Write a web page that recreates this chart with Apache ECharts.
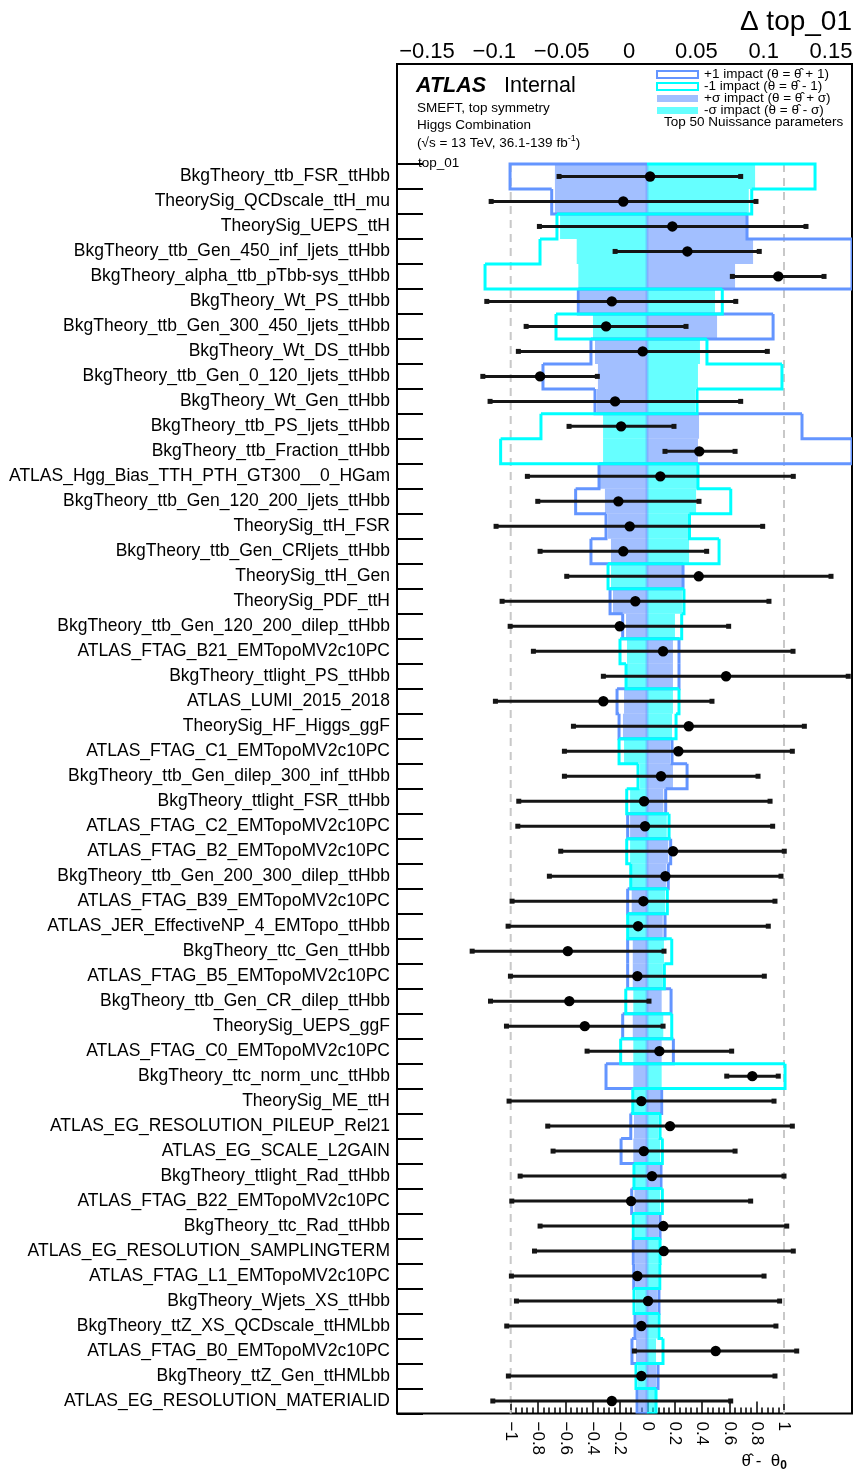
<!DOCTYPE html>
<html><head><meta charset="utf-8">
<script src="https://cdn.jsdelivr.net/npm/echarts@6/dist/echarts.min.js"></script>
<style>html,body{margin:0;padding:0;background:#fff}#c{width:856px;height:1477px}</style>
</head><body><div id="c"></div>
<script>
// ---------------- data ----------------
const names = [
 'BkgTheory_ttb_FSR_ttHbb','TheorySig_QCDscale_ttH_mu','TheorySig_UEPS_ttH','BkgTheory_ttb_Gen_450_inf_ljets_ttHbb',
 'BkgTheory_alpha_ttb_pTbb-sys_ttHbb','BkgTheory_Wt_PS_ttHbb','BkgTheory_ttb_Gen_300_450_ljets_ttHbb','BkgTheory_Wt_DS_ttHbb',
 'BkgTheory_ttb_Gen_0_120_ljets_ttHbb','BkgTheory_Wt_Gen_ttHbb','BkgTheory_ttb_PS_ljets_ttHbb','BkgTheory_ttb_Fraction_ttHbb',
 'ATLAS_Hgg_Bias_TTH_PTH_GT300__0_HGam','BkgTheory_ttb_Gen_120_200_ljets_ttHbb','TheorySig_ttH_FSR','BkgTheory_ttb_Gen_CRljets_ttHbb',
 'TheorySig_ttH_Gen','TheorySig_PDF_ttH','BkgTheory_ttb_Gen_120_200_dilep_ttHbb','ATLAS_FTAG_B21_EMTopoMV2c10PC',
 'BkgTheory_ttlight_PS_ttHbb','ATLAS_LUMI_2015_2018','TheorySig_HF_Higgs_ggF','ATLAS_FTAG_C1_EMTopoMV2c10PC',
 'BkgTheory_ttb_Gen_dilep_300_inf_ttHbb','BkgTheory_ttlight_FSR_ttHbb','ATLAS_FTAG_C2_EMTopoMV2c10PC','ATLAS_FTAG_B2_EMTopoMV2c10PC',
 'BkgTheory_ttb_Gen_200_300_dilep_ttHbb','ATLAS_FTAG_B39_EMTopoMV2c10PC','ATLAS_JER_EffectiveNP_4_EMTopo_ttHbb','BkgTheory_ttc_Gen_ttHbb',
 'ATLAS_FTAG_B5_EMTopoMV2c10PC','BkgTheory_ttb_Gen_CR_dilep_ttHbb','TheorySig_UEPS_ggF','ATLAS_FTAG_C0_EMTopoMV2c10PC',
 'BkgTheory_ttc_norm_unc_ttHbb','TheorySig_ME_ttH','ATLAS_EG_RESOLUTION_PILEUP_Rel21','ATLAS_EG_SCALE_L2GAIN',
 'BkgTheory_ttlight_Rad_ttHbb','ATLAS_FTAG_B22_EMTopoMV2c10PC','BkgTheory_ttc_Rad_ttHbb','ATLAS_EG_RESOLUTION_SAMPLINGTERM',
 'ATLAS_FTAG_L1_EMTopoMV2c10PC','BkgTheory_Wjets_XS_ttHbb','BkgTheory_ttZ_XS_QCDscale_ttHMLbb','ATLAS_FTAG_B0_EMTopoMV2c10PC',
 'BkgTheory_ttZ_Gen_ttHMLbb','ATLAS_EG_RESOLUTION_MATERIALID'
];
const pullValue = [
 0.02,-0.176,0.183,0.293,0.958,-0.26,-0.302,-0.034,-0.785,-0.236,
 -0.192,0.38,0.095,-0.212,-0.129,-0.176,0.376,-0.088,-0.202,0.115,
 0.576,-0.322,0.303,0.227,0.1,-0.024,-0.017,0.188,0.132,-0.029,
 -0.068,-0.582,-0.073,-0.571,-0.458,0.088,0.768,-0.044,0.166,-0.026,
 0.034,-0.119,0.117,0.12,-0.073,0.005,-0.044,0.5,-0.044,-0.26
];
const pullLow = [
 -0.646,-1.143,-0.79,-0.236,0.622,-1.175,-0.887,-0.944,-1.204,-1.151,
 -0.573,0.129,-0.878,-0.802,-1.107,-0.785,-0.59,-1.063,-1.004,-0.834,
 -0.322,-1.112,-0.541,-0.607,-0.607,-0.941,-0.948,-0.634,-0.717,-0.99,
 -1.019,-1.282,-1.002,-1.148,-1.031,-0.441,0.581,-1.012,-0.729,-0.69,
 -0.931,-0.992,-0.785,-0.826,-0.995,-0.958,-1.029,-0.095,-1.017,-1.131
];
const pullHigh = [
 0.683,0.795,1.161,0.819,1.293,0.647,0.283,0.878,-0.366,0.683,
 0.195,0.642,1.068,0.378,0.844,0.434,1.344,0.89,0.595,1.066,
 1.47,0.473,1.149,1.061,0.81,0.898,0.917,1.002,0.978,0.934,
 0.885,0.122,0.856,0.012,0.115,0.617,0.958,0.927,1.061,0.642,
 1.0,0.756,1.02,1.068,0.854,0.968,0.941,1.093,0.934,0.61
];
const impactPlus1 = [
 -0.1019,-0.0709,0.0744,0.19,0.19,-0.0511,0.0938,-0.0417,-0.0774,-0.0387,
 0.1153,0.20,-0.0357,-0.0531,-0.0305,-0.0417,0.0268,-0.0275,-0.0181,0.0238,
 0.0238,-0.0223,-0.0208,0.0186,0.0298,0.0139,-0.0144,0.0176,0.0158,-0.0144,
 0.0134,-0.0144,-0.0144,0.0179,-0.0181,0.0196,-0.0305,0.0109,-0.0121,-0.0193,
 0.0104,-0.0114,0.0097,-0.0102,-0.0099,0.0089,-0.0089,-0.0112,0.0082,-0.0074
];
const impactMinus1 = [
 0.125,0.0779,-0.067,-0.0796,-0.1205,0.056,-0.0677,0.0446,0.1004,0.0372,
 -0.0789,-0.1089,0.0379,0.0623,0.0316,0.0536,-0.029,0.0275,0.0258,-0.0201,
 -0.0156,0.0238,0.0216,-0.0208,-0.0067,-0.0151,0.0164,-0.0151,-0.0121,0.0151,
 -0.0144,0.0184,0.0129,-0.0158,0.0184,-0.0196,0.1027,-0.0106,0.0097,0.0114,
 -0.0097,0.0114,-0.0102,0.0097,0.0095,-0.0097,0.0089,0.0119,-0.0082,0.0067
];
const impactPlusSigma = [
 -0.0685,-0.0685,0.0737,0.0789,0.0655,-0.0499,0.0521,-0.0387,-0.0365,-0.0372,
 0.0387,0.0379,-0.035,-0.0313,-0.029,-0.0268,0.026,-0.0253,-0.0156,0.0193,
 0.0193,-0.0171,-0.0179,0.0171,0.0193,0.0121,-0.0126,0.0158,0.0141,-0.0114,
 0.0117,-0.0106,-0.0106,0.0109,-0.0106,0.0109,-0.0102,0.0097,-0.0097,-0.0102,
 0.0092,-0.0094,0.0084,-0.0089,-0.0087,0.0074,-0.0078,-0.0082,0.0067,-0.0063
];
const impactMinusSigma = [
 0.0804,0.0757,-0.0647,-0.0523,-0.0511,0.0506,-0.0402,0.0394,0.0379,0.0357,
 -0.0327,-0.0327,0.0372,0.0365,0.0313,0.0313,-0.0268,0.026,0.0208,-0.0149,
 -0.0149,0.0193,0.0186,-0.0171,-0.0052,-0.0126,0.0147,-0.0126,-0.0112,0.0134,
 -0.0134,0.0126,0.0117,-0.0102,0.0121,-0.0102,0.0109,-0.0097,0.0084,0.0097,
 -0.0089,0.0097,-0.0089,0.0089,0.0086,-0.0082,0.0078,0.0067,-0.0067,0.006
];
const headerSlots = ['hdr0','hdr1','hdr2','hdr3'];
const pullRefLines = [-1, 1];
const legendNames = ['+1 impact (θ = θ̂ + 1)','-1 impact (θ = θ̂ - 1)','+σ impact (θ = θ̂ + σ)','-σ impact (θ = θ̂ - σ)'];

// ---------------- build ----------------
const FONT = '"Liberation Sans", Arial, Helvetica, sans-serif';
const H = headerSlots.length;
const categories = headerSlots.concat(names);
const N = names.length;
const blueLine = '#6495ff', cyanLine = '#00ffff';
const blueFill = 'rgba(100,149,255,0.6)', cyanFill = 'rgba(0,255,255,0.6)';
const minusFmt = v => String(v).replace('-', '\u2212');

function fillRender(color){
  return function(params, api){
    const v = api.value(0), r = api.value(1);
    const cs = params.coordSys;
    const p0 = api.coord([0, r]), p1 = api.coord([v, r]);
    const h = api.size([0, 1])[1];
    let x0 = Math.min(p0[0], p1[0]), x1 = Math.max(p0[0], p1[0]);
    x0 = Math.max(x0, cs.x); x1 = Math.min(x1, cs.x + cs.width);
    return {type:'rect', shape:{x:x0, y:p0[1]-h/2, width:x1-x0, height:h}, style:{fill:color}};
  };
}
function outlineRender(color){
  return function(params, api){
    const v = api.value(0), r = api.value(1), vn = api.value(2), first = api.value(3);
    const cs = params.coordSys;
    const cl = x => Math.max(cs.x, Math.min(cs.x + cs.width, x));
    const h = api.size([0, 1])[1];
    const c = api.coord([v, r]);
    const yT = c[1] - h/2, yB = c[1] + h/2;
    const x = cl(c[0]), xn = cl(api.coord([vn, r])[0]), x0 = cl(api.coord([0, r])[0]);
    const pts = [];
    if (first) pts.push([x0, yT]);
    pts.push([x, yT], [x, yB], [xn, yB]);
    return {type:'polyline', shape:{points:pts}, style:{stroke:color, lineWidth:3, fill:'none', lineJoin:'miter'}};
  };
}
function outlineData(arr){
  return arr.map((v, i) => [v, i + H, i < arr.length - 1 ? arr[i+1] : 0, i === 0 ? 1 : 0]);
}
function pullRender(params, api){
  const r = api.value(1);
  const c = api.coord([api.value(0), r]);
  const lo = api.coord([api.value(2), r]);
  const hi = api.coord([api.value(3), r]);
  return {type:'group', children:[
    {type:'line', shape:{x1:lo[0], y1:c[1], x2:hi[0], y2:c[1]}, style:{stroke:'#151515', lineWidth:3}},
    {type:'rect', shape:{x:lo[0]-2.5, y:c[1]-2.5, width:5, height:5}, style:{fill:'#151515'}},
    {type:'rect', shape:{x:hi[0]-2.5, y:c[1]-2.5, width:5, height:5}, style:{fill:'#151515'}},
    {type:'circle', shape:{cx:c[0], cy:c[1], r:5.2}, style:{fill:'#000'}}
  ]};
}
function refLineRender(params, api){
  const v = api.value(0);
  const h = api.size([0, 1])[1];
  const a = api.coord([v, H]), b = api.coord([v, H + N - 1]);
  return {type:'line', shape:{x1:a[0], y1:a[1]-h/2, x2:b[0], y2:b[1]+h/2},
          style:{stroke:'#c8c8c8', lineWidth:2, lineDash:[8,6]}};
}
function zeroStripRender(params, api){
  const h = api.size([0, 1])[1];
  const a = api.coord([0, H]), b = api.coord([0, H + N - 1]);
  return {type:'rect', shape:{x:a[0]-1.5, y:a[1]-h/2, width:3, height:(b[1]-a[1])+h},
          style:{fill:'rgba(100,149,255,0.45)'}};
}

const gridTop = 64, gridBottom = 63.5;
const hiddenCatY = idx => ({type:'category', data:categories, inverse:true, gridIndex:idx, show:false});

const option = {
  animation:false,
  textStyle:{fontFamily:FONT},
  grid:[
    {left:397, right:4, top:gridTop, bottom:gridBottom, show:true, borderColor:'#000', borderWidth:2, backgroundColor:'transparent'},
    {left:510.7, right:72, top:gridTop, bottom:gridBottom},
    {left:427, right:25, top:gridTop, bottom:gridBottom}
  ],
  xAxis:[
    {type:'value', gridIndex:0, min:-0.186, max:0.1525, show:false, splitLine:{show:false}},
    {type:'value', gridIndex:1, min:-1, max:1, interval:0.2, position:'bottom',
     axisLine:{show:false, onZero:false}, splitLine:{show:false},
     axisTick:{show:true, inside:true, length:12, lineStyle:{color:'#000', width:1.5}},
     minorTick:{show:true, splitNumber:5, length:6, lineStyle:{color:'#000', width:1.5}},
     minorSplitLine:{show:false},
     axisLabel:{rotate:-90, fontSize:17, color:'#000', margin:8, fontFamily:FONT, formatter:minusFmt}},
    {type:'value', gridIndex:2, min:-0.15, max:0.15, interval:0.05, position:'top',
     axisLine:{show:false, onZero:false}, axisTick:{show:false}, splitLine:{show:false},
     axisLabel:{fontSize:22, color:'#000', margin:1, fontFamily:FONT, formatter:minusFmt}}
  ],
  yAxis:[
    {type:'category', data:categories, inverse:true, gridIndex:0, position:'left',
     axisLine:{show:false, onZero:false},
     axisTick:{show:true, inside:true, length:26, interval:(i)=> i >= H, lineStyle:{color:'#000', width:2}},
     axisLabel:{interval:0, margin:7, fontSize:17.5, color:'#000', fontFamily:FONT,
                formatter:(v)=> headerSlots.indexOf(v) >= 0 ? '' : v},
     splitLine:{show:false}},
    hiddenCatY(1), hiddenCatY(2)
  ],
  legend:{
    orient:'vertical', left:656, top:67.5, padding:0, itemWidth:41, itemHeight:7, itemGap:-2,
    selectedMode:false,
    textStyle:{fontSize:13.5, lineHeight:12.3, color:'#000', fontFamily:FONT, padding:[0,0,0,1]},
    data:[
      {name:legendNames[0], icon:'rect', itemStyle:{color:'#fff', borderColor:blueLine, borderWidth:2}},
      {name:legendNames[1], icon:'rect', itemStyle:{color:'#fff', borderColor:cyanLine, borderWidth:2}},
      {name:legendNames[2], icon:'rect', itemStyle:{color:blueFill, borderWidth:0}},
      {name:legendNames[3], icon:'rect', itemStyle:{color:cyanFill, borderWidth:0}}
    ]
  },
  graphic:[
    {type:'text', x:852, y:22, style:{text:'Δ top_01', font:'28px ' + FONT, fill:'#000', align:'right', verticalAlign:'middle'}},
    {type:'text', x:416, y:86, style:{text:'ATLAS', font:'italic bold 21.5px ' + FONT, fill:'#000', align:'left', verticalAlign:'middle'}},
    {type:'text', x:504, y:86, style:{text:'Internal', font:'21.5px ' + FONT, fill:'#000', align:'left', verticalAlign:'middle'}},
    {type:'text', x:417, y:108, style:{text:'SMEFT, top symmetry', font:'13.5px ' + FONT, fill:'#000', align:'left', verticalAlign:'middle'}},
    {type:'text', x:417, y:125.5, style:{text:'Higgs Combination', font:'13.5px ' + FONT, fill:'#000', align:'left', verticalAlign:'middle'}},
    {type:'text', x:417, y:143, style:{text:'(√s = 13 TeV, 36.1-139 fb{s|-1})', font:'13.5px ' + FONT, fill:'#000', align:'left', verticalAlign:'middle',
      rich:{s:{fontSize:9, fontFamily:FONT, fill:'#000', verticalAlign:'top', padding:[0,0,8,0]}}}},
    {type:'text', x:418, y:163, style:{text:'top_01', font:'13.5px ' + FONT, fill:'#000', align:'left', verticalAlign:'middle'}},
    {type:'text', x:664, y:122, style:{text:'Top 50 Nuissance parameters', font:'13.5px ' + FONT, fill:'#000', align:'left', verticalAlign:'middle'}},
    {type:'text', x:787, y:1461, style:{text:'{a|θ̂ -  θ}{b|0}', fill:'#000', align:'right', verticalAlign:'middle',
      rich:{a:{fontSize:17, fontFamily:FONT, fill:'#000'}, b:{fontSize:12, fontWeight:'bold', fontFamily:FONT, fill:'#000', padding:[10,0,0,0]}}}}
  ],
  series:[
    {type:'custom', name:'refLines', xAxisIndex:1, yAxisIndex:1, z:1, silent:true, clip:false,
     renderItem:refLineRender, data:pullRefLines.map(v => [v])},
    {type:'custom', name:legendNames[2], xAxisIndex:0, yAxisIndex:0, z:2, clip:true,
     itemStyle:{color:blueFill}, renderItem:fillRender(blueFill), data:impactPlusSigma.map((v,i)=>[v, i+H])},
    {type:'custom', name:legendNames[3], xAxisIndex:0, yAxisIndex:0, z:2, clip:true,
     itemStyle:{color:cyanFill}, renderItem:fillRender(cyanFill), data:impactMinusSigma.map((v,i)=>[v, i+H])},
    {type:'custom', name:'zero', xAxisIndex:0, yAxisIndex:0, z:3, silent:true,
     renderItem:zeroStripRender, data:[[0, H]]},
    {type:'custom', name:legendNames[0], xAxisIndex:0, yAxisIndex:0, z:4, clip:true,
     itemStyle:{color:blueLine}, renderItem:outlineRender(blueLine), data:outlineData(impactPlus1)},
    {type:'custom', name:legendNames[1], xAxisIndex:0, yAxisIndex:0, z:5, clip:true,
     itemStyle:{color:cyanLine}, renderItem:outlineRender(cyanLine), data:outlineData(impactMinus1)},
    {type:'custom', name:'pulls', xAxisIndex:1, yAxisIndex:1, z:6, clip:false,
     renderItem:pullRender, data:pullValue.map((v,i)=>[v, i+H, pullLow[i], pullHigh[i]])}
  ]
};
const chart = echarts.init(document.getElementById('c'), null, {renderer:'canvas'});
chart.setOption(option);
</script>
</body></html>
